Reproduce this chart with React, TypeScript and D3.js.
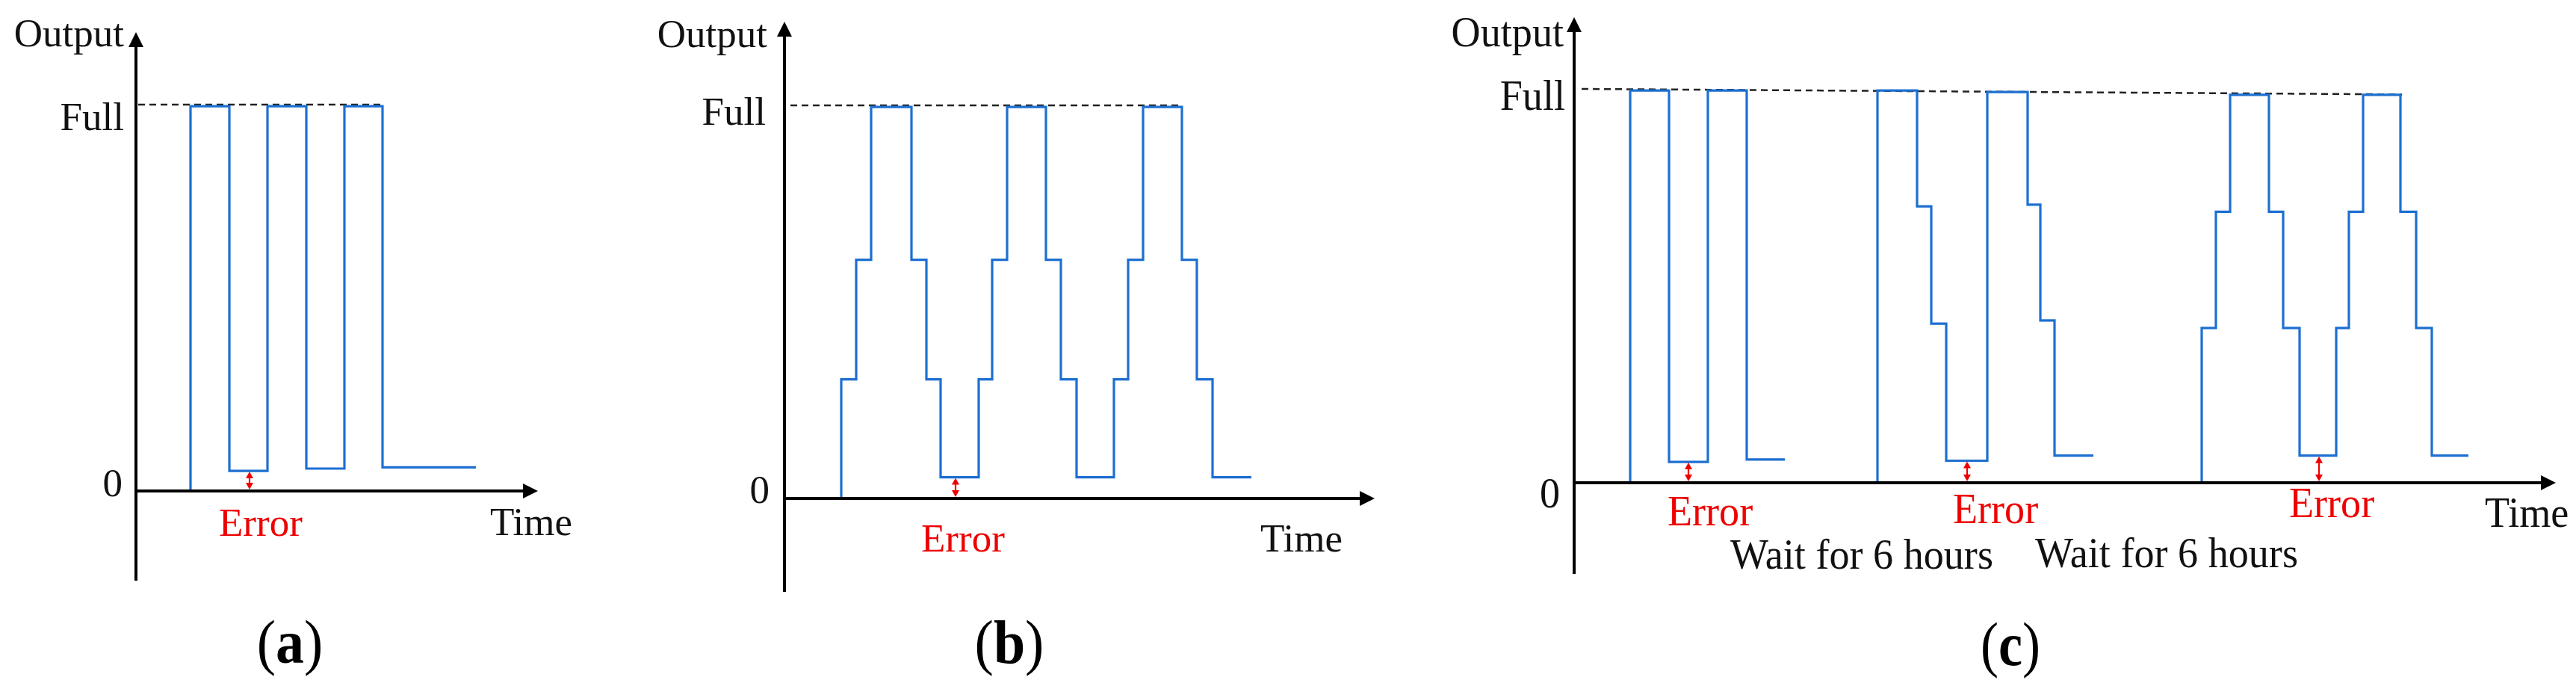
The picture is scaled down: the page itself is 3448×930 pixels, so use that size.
import * as d3 from "d3";

const W = 3448;
const H = 930;

// (a) full output / zero output, constant intervals
const timesA = [7.3, 7.3, 12.5, 17.6, 22.8, 27.9, 33.0, 45.5];
const valuesA = [0, 99.6, 5.2, 99.6, 5.8, 99.6, 6.1, 6.1];
const dashTimesA = [0.3, 32.8];
const dashValuesA = [100, 100];
const errTimesA = [15.2];
const errValuesA = [5.2];

// (b) stepped ramp up / down
const timesB = [7.6, 7.6, 9.6, 11.6, 17.0, 19.0, 20.9, 26.0, 27.8, 29.8, 35.0, 37.0, 39.1, 44.1, 46.0, 48.0, 53.2, 55.2, 57.3, 62.5];
const valuesB = [0, 30.3, 60.7, 99.6, 60.7, 30.3, 5.4, 30.3, 60.7, 99.6, 60.7, 30.3, 5.4, 30.3, 60.7, 99.6, 60.7, 30.3, 5.4, 5.4];
const dashTimesB = [0.8, 53.1];
const dashValuesB = [100, 100];
const errTimesB = [22.9];
const errValuesB = [5.4];

// (c) three test groups separated by 6 hour waits
const timesC = [
  7.5, 7.5, 12.7, 17.9, 23.1, 28.2,
  40.6, 40.6, 45.9, 47.8, 49.8, 55.3, 60.7, 62.4, 64.3, 69.5,
  84.0, 84.0, 85.9, 87.8, 93.0, 94.9, 97.1, 102.0, 103.7, 105.6, 110.6, 112.7, 114.8, 119.7,
];
const valuesC = [
  0, 99.6, 5.3, 99.6, 5.9, 5.9,
  0, 99.6, 70.2, 40.4, 5.6, 99.2, 70.6, 41.2, 6.9, 6.9,
  0, 39.3, 68.8, 98.5, 68.8, 39.3, 6.9, 39.3, 68.8, 98.5, 68.8, 39.3, 6.9, 6.9,
];
// breaks between groups (index where a new group starts)
const groupStartsC = [0, 6, 16];
const dashTimesC = [1.0, 110.8];
const dashValuesC = [100, 98.6];
const errTimesC = [15.3, 52.6, 99.7];
const errValuesC = [5.3, 5.6, 6.9];
const waitLabels = ["Wait for 6 hours", "Wait for 6 hours"];

const BLUE = "#1d6fd1";
const RED = "#ee0000";
const FONT = "'Liberation Serif', 'Times New Roman', serif";

type Panel = {
  id: string;
  x0: number; xEnd: number; tMax: number;
  y0: number; yFull: number; yTop: number; yBottom: number;
  times: number[]; values: number[]; groups: number[];
  dashT: number[]; dashV: number[];
  errT: number[]; errV: number[];
  fs: number; sx: number;
  outputAt: [number, number]; fullAt: [number, number]; zeroAt: [number, number];
  timeAt: [number, number]; errLabels: [number, number][];
  extra: { text: string; at: [number, number] }[];
  tagAt: [number, number];
};

const panels: Panel[] = [
  {
    id: "a", x0: 182, xEnd: 720, tMax: 53.8, y0: 657, yFull: 140, yTop: 43, yBottom: 777,
    times: timesA, values: valuesA, groups: [0],
    dashT: dashTimesA, dashV: dashValuesA, errT: errTimesA, errV: errValuesA,
    fs: 53, sx: 1,
    outputAt: [166, 62], fullAt: [166, 174], zeroAt: [164, 664], timeAt: [656, 716],
    errLabels: [[293, 717]], extra: [], tagAt: [388, 887],
  },
  {
    id: "b", x0: 1050, xEnd: 1840, tMax: 79, y0: 667, yFull: 141, yTop: 29, yBottom: 792,
    times: timesB, values: valuesB, groups: [0],
    dashT: dashTimesB, dashV: dashValuesB, errT: errTimesB, errV: errValuesB,
    fs: 53, sx: 1,
    outputAt: [1027, 63], fullAt: [1025, 167], zeroAt: [1030, 673], timeAt: [1687, 738],
    errLabels: [[1233, 738]], extra: [], tagAt: [1351, 887],
  },
  {
    id: "c", x0: 2107, xEnd: 3421, tMax: 131.4, y0: 646, yFull: 119, yTop: 23, yBottom: 768,
    times: timesC, values: valuesC, groups: groupStartsC,
    dashT: dashTimesC, dashV: dashValuesC, errT: errTimesC, errV: errValuesC,
    fs: 57, sx: 0.95,
    outputAt: [2093, 62], fullAt: [2095, 147], zeroAt: [2088, 679], timeAt: [3326, 705],
    errLabels: [[2232, 703], [2614, 700], [3064, 692]],
    extra: [
      { text: waitLabels[0], at: [2316, 761] },
      { text: waitLabels[1], at: [2724, 759] },
    ],
    tagAt: [2691, 890],
  },
];

function Label({ text, at, fs, sx, anchor = "start", fill = "#111" }: any) {
  return (
    <text
      transform={`translate(${at[0]},${at[1]}) scale(${sx},1)`}
      fontSize={fs}
      fontFamily={FONT}
      textAnchor={anchor}
      fill={fill}
    >
      {text}
    </text>
  );
}

function PanelChart({ p }: { p: Panel }) {
  const x = d3.scaleLinear().domain([0, p.tMax]).range([p.x0, p.xEnd]);
  const y = d3.scaleLinear().domain([0, 100]).range([p.y0, p.yFull]);
  const step = d3
    .line<[number, number]>()
    .x((d) => x(d[0]))
    .y((d) => y(d[1]))
    .curve(d3.curveStepAfter);
  const straight = d3
    .line<[number, number]>()
    .x((d) => x(d[0]))
    .y((d) => y(d[1]));

  const pts: [number, number][] = p.times.map((t, i) => [t, p.values[i]]);
  const bounds = [...p.groups, pts.length];
  const segments = p.groups.map((g, i) => pts.slice(g, bounds[i + 1]));
  const dash: [number, number][] = p.dashT.map((t, i) => [t, p.dashV[i]]);

  const ax = p.x0;
  const ay = p.y0;
  const head = 20;

  return (
    <g>
      {/* dashed full-output reference */}
      <path d={straight(dash) ?? ""} fill="none" stroke="#222" strokeWidth={2.5} strokeDasharray="9 6" />

      {/* output trace */}
      {segments.map((s, i) => (
        <path key={i} d={step(s) ?? ""} fill="none" stroke={BLUE} strokeWidth={3.2} strokeLinejoin="miter" />
      ))}

      {/* axes */}
      <line x1={ax} x2={ax} y1={p.yBottom} y2={p.yTop + head - 2} stroke="#000" strokeWidth={4} />
      <polygon points={`${ax},${p.yTop} ${ax - 10},${p.yTop + head} ${ax + 10},${p.yTop + head}`} fill="#000" />
      <line x1={ax - 2} x2={p.xEnd - head + 2} y1={ay} y2={ay} stroke="#000" strokeWidth={4} />
      <polygon points={`${p.xEnd},${ay} ${p.xEnd - head},${ay - 10} ${p.xEnd - head},${ay + 10}`} fill="#000" />

      {/* error markers */}
      {p.errT.map((t, i) => {
        const ex = x(t);
        const top = y(p.errV[i]) + 1;
        const bot = ay - 2;
        return (
          <g key={i} fill={RED} stroke="none">
            <line x1={ex} x2={ex} y1={top + 4} y2={bot - 4} stroke={RED} strokeWidth={2.2} />
            <polygon points={`${ex},${top} ${ex - 5},${top + 9} ${ex + 5},${top + 9}`} />
            <polygon points={`${ex},${bot} ${ex - 5},${bot - 9} ${ex + 5},${bot - 9}`} />
          </g>
        );
      })}

      {/* texts */}
      <Label text="Output" at={p.outputAt} fs={p.fs} sx={p.sx} anchor="end" />
      <Label text="Full" at={p.fullAt} fs={p.fs} sx={p.sx} anchor="end" />
      <Label text="0" at={p.zeroAt} fs={p.fs} sx={p.sx} anchor="end" />
      <Label text="Time" at={p.timeAt} fs={p.fs} sx={p.sx} />
      {p.errLabels.map((at, i) => (
        <Label key={i} text="Error" at={at} fs={p.fs} sx={p.sx} fill={RED} />
      ))}
      {p.extra.map((e, i) => (
        <Label key={i} text={e.text} at={e.at} fs={p.fs} sx={p.sx} />
      ))}
      <text
        transform={`translate(${p.tagAt[0]},${p.tagAt[1]}) scale(${p.sx},1.08)`}
        fontSize={76}
        fontFamily={FONT}
        textAnchor="middle"
        fill="#000"
      >
        (<tspan fontWeight="bold">{p.id}</tspan>)
      </text>
    </g>
  );
}

export default function App() {
  return (
    <svg
      width={W}
      height={H}
      viewBox={`0 0 ${W} ${H}`}
      style={{ position: "absolute", left: 0, top: 0, background: "#fff" }}
    >
      <rect width={W} height={H} fill="#fff" />
      {panels.map((p) => (
        <PanelChart key={p.id} p={p} />
      ))}
    </svg>
  );
}
